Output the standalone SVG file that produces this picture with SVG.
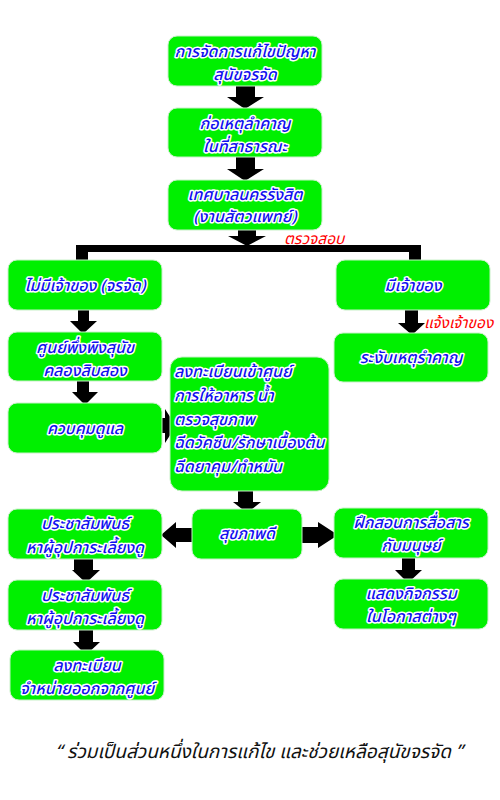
<svg xmlns="http://www.w3.org/2000/svg" width="500" height="800" viewBox="0 0 500 800">
<style>
.box{fill:#00f000;stroke:#c8f0c8;stroke-width:1}
.t{font-family:"Noto Sans Thai","Noto Sans","DejaVu Sans",sans-serif;font-size:16px;font-style:italic;font-weight:500;fill:#1010ee;stroke:#ffffff;stroke-width:3;paint-order:stroke;stroke-linejoin:round;text-anchor:middle}
.tl{text-anchor:start}
.r{font-family:"Noto Sans Thai","Noto Sans","DejaVu Sans",sans-serif;font-size:15.5px;font-style:italic;fill:#ff0000}
.q{font-family:"Noto Sans Thai","Noto Sans","DejaVu Sans",sans-serif;font-size:19px;font-style:italic;fill:#111111;text-anchor:middle}
.a{fill:#000000}
</style>
<rect width="500" height="800" fill="#ffffff"/>
<g id="connectors">
<path class="a" d="M236,85 H255 V97 H264 L245,109 L227,97 H236 Z"/>
<path class="a" d="M236,156 H255 V169 H264 L245,181 L227,169 H236 Z"/>
<path class="a" d="M238,229 H256 V236 H266 L247,246 L228,236 H238 Z"/>
<path class="a" d="M76,245 H421 V262 H428 L415,275 L401,262 H409 V252 H88 V262 H97 L82,274 L68,262 H76 Z"/>
<path class="a" d="M78,309 H89 V321 H97 L83,334 L70,321 H78 Z"/>
<path class="a" d="M77,380 H89 V392 H98 L85,405 L72,392 H77 Z"/>
<path class="a" d="M154,418 H165 V409 L176,426 L165,443 V433 H154 Z"/>
<path class="a" d="M405,309 H418 V323 H425 L412,335 L398,323 H405 Z"/>
<path class="a" d="M238,490 H253 V502 H261 L247,513 L233,502 H238 Z"/>
<path class="a" d="M193,528 H176 V522 L161,535 L176,548 V542 H193 Z"/>
<path class="a" d="M300,527 H318 V522 L338,535 L318,548 V543 H300 Z"/>
<path class="a" d="M74,555 H93 V570 H100 L86,583 L72,570 H74 Z"/>
<path class="a" d="M79,628 H93 V642 H100 L86,655 L73,642 H79 Z"/>
<path class="a" d="M402,555 H415 V570 H422 L408,583 L395,570 H402 Z"/>
<text class="r" x="284" y="244">ตรวจสอบ</text>
<text class="r" x="424" y="328">แจ้งเจ้าของ</text>
</g>
<g id="n1"><rect class="box" x="168" y="36" width="154" height="50" rx="9"/><text class="t" x="245" y="57">การจัดการแก้ไขปัญหา</text><text class="t" x="245" y="80">สุนัขจรจัด</text></g>
<g id="n2"><rect class="box" x="168" y="108" width="154" height="49" rx="9"/><text class="t" x="245" y="129">ก่อเหตุลำคาญ</text><text class="t" x="245" y="152">ในที่สาธารณะ</text></g>
<g id="n3"><rect class="box" x="168" y="180" width="154" height="50" rx="9"/><text class="t" x="245" y="200">เทศบาลนครรังสิต</text><text class="t" x="245" y="222">(งานสัตวแพทย์)</text></g>
<g id="n4"><rect class="box" x="8" y="260" width="154" height="50" rx="9"/><text class="t" x="85" y="291">ไม่มีเจ้าของ (จรจัด)</text></g>
<g id="n5"><rect class="box" x="336" y="260" width="154" height="50" rx="9"/><text class="t" x="413" y="291">มีเจ้าของ</text></g>
<g id="n6"><rect class="box" x="334" y="333" width="154" height="49" rx="9"/><text class="t" x="411" y="363">ระงับเหตุรำคาญ</text></g>
<g id="n7"><rect class="box" x="8" y="332" width="154" height="49" rx="9"/><text class="t" x="85" y="353">ศูนย์พึ่งพิงสุนัข</text><text class="t" x="85" y="376">คลองสิบสอง</text></g>
<g id="n8"><rect class="box" x="8" y="403" width="154" height="50" rx="9"/><text class="t" x="85" y="434">ควบคุมดูแล</text></g>
<g id="n9"><rect class="box" x="170" y="357" width="159" height="134" rx="12"/>
<text class="t tl" x="174" y="377">ลงทะเบียนเข้าศูนย์</text>
<text class="t tl" x="174" y="401">การให้อาหาร น้ำ</text>
<text class="t tl" x="174" y="425">ตรวจสุขภาพ</text>
<text class="t tl" x="174" y="448">ฉีดวัคซีน/รักษาเบื้องต้น</text>
<text class="t tl" x="174" y="472">ฉีดยาคุม/ทำหมัน</text></g>
<g id="n10"><rect class="box" x="192" y="509" width="110" height="50" rx="9"/><text class="t" x="247" y="539">สุขภาพดี</text></g>
<g id="n11"><rect class="box" x="8" y="509" width="154" height="50" rx="9"/><text class="t" x="85" y="529">ประชาสัมพันธ์</text><text class="t" x="85" y="553">หาผู้อุปการะเลี้ยงดู</text></g>
<g id="n12"><rect class="box" x="8" y="580" width="154" height="50" rx="9"/><text class="t" x="85" y="601">ประชาสัมพันธ์</text><text class="t" x="85" y="624">หาผู้อุปการะเลี้ยงดู</text></g>
<g id="n13"><rect class="box" x="10" y="650" width="154" height="50" rx="9"/><text class="t" x="87" y="671">ลงทะเบียน</text><text class="t" x="87" y="694">จำหน่ายออกจากศูนย์</text></g>
<g id="n14"><rect class="box" x="334" y="508" width="154" height="50" rx="9"/><text class="t" x="411" y="528">ฝึกสอนการสื่อสาร</text><text class="t" x="411" y="551">กับมนุษย์</text></g>
<g id="n15"><rect class="box" x="334" y="579" width="154" height="50" rx="9"/><text class="t" x="411" y="599">แสดงกิจกรรม</text><text class="t" x="411" y="622">ในโอกาสต่างๆ</text></g>
<text class="q" x="259" y="758">“ ร่วมเป็นส่วนหนึ่งในการแก้ไข และช่วยเหลือสุนัขจรจัด ”</text>
</svg>
